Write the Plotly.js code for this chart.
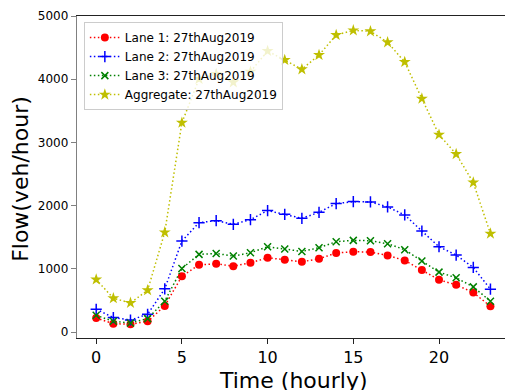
<!DOCTYPE html>
<html>
<head>
<meta charset="utf-8">
<script src="https://cdn.plot.ly/plotly-3.0.1.min.js"></script>
<style>
  html, body { margin: 0; padding: 0; background: #fff; }
  #chart { width: 505px; height: 390px; }
</style>
</head>
<body>
<div id="chart"></div>
<script>
// Hourly flow per lane on 27 Aug 2019 (veh/hour)
const hours = [0,1,2,3,4,5,6,7,8,9,10,11,12,13,14,15,16,17,18,19,20,21,22,23];
const lane1 = [222,132,122,169,413,884,1063,1079,1042,1095,1175,1143,1111,1159,1249,1270,1265,1212,1132,979,825,746,624,407];
const lane2 = [360,228,190,280,683,1439,1730,1762,1704,1778,1921,1862,1799,1894,2032,2063,2058,1979,1852,1598,1349,1217,1021,677];
const lane3 = [265,169,143,212,487,1005,1228,1243,1201,1254,1349,1312,1275,1333,1429,1450,1444,1397,1302,1122,947,857,714,487];
const aggregate = [831,534,460,661,1577,3312,4003,4082,3951,4119,4446,4304,4157,4383,4699,4773,4758,4584,4272,3692,3122,2816,2365,1556];
const seriesNames = ['Lane 1: 27thAug2019','Lane 2: 27thAug2019','Lane 3: 27thAug2019','Aggregate: 27thAug2019'];
const xTicks = [0,5,10,15,20];
const yTicks = [0,1000,2000,3000,4000,5000];
const xTitle = 'Time (hourly)';
const yTitle = 'Flow(veh/hour)';

const dotted = '1.5px,2.5px';
function series(y, name, color, marker) {
  return {
    x: hours, y: y, name: name, type: 'scatter', mode: 'lines+markers',
    line: {color: color, width: 1.5, dash: dotted},
    marker: Object.assign({color: color}, marker)
  };
}

const traces = [
  series(lane1, seriesNames[0], '#ff0000', {symbol: 'circle', size: 8, line: {width: 0}}),
  series(lane2, seriesNames[1], '#0000ff', {symbol: 'cross-thin', size: 8, line: {color: '#0000ff', width: 1.5}}),
  series(lane3, seriesNames[2], '#008000', {symbol: 'x-thin', size: 7, line: {color: '#008000', width: 1.5}}),
  series(aggregate, seriesNames[3], '#bfbf00', {symbol: 'star', size: 9, line: {width: 0}})
];

const titleFont = {family: 'DejaVu Sans', size: 22, color: '#000'};

const layout = {
  width: 505, height: 390,
  margin: {l: 77, r: 0, t: 16, b: 52, pad: 0},
  paper_bgcolor: '#fff', plot_bgcolor: '#fff',
  font: {family: 'DejaVu Sans', color: '#000'},
  showlegend: true,
  legend: {
    x: 0.016, y: 0.981, xanchor: 'left', yanchor: 'top',
    bgcolor: 'rgba(255,255,255,0.8)', bordercolor: '#cccccc', borderwidth: 1,
    font: {family: 'DejaVu Sans', size: 12, color: '#000'},
    tracegroupgap: 0
  },
  xaxis: {
    range: [-1.12, 23.85],
    tickvals: xTicks, ticktext: xTicks.map(String),
    ticks: 'outside', ticklen: 5, tickwidth: 1, tickcolor: '#222',
    showline: true, linecolor: '#222', linewidth: 1.2, mirror: true,
    showgrid: false, zeroline: false,
    tickfont: {family: 'DejaVu Sans', size: 16, color: '#000'}
  },
  yaxis: {
    range: [-95, 5000],
    tickvals: yTicks, ticktext: yTicks.map(String),
    ticks: 'outside', ticklen: 5, tickwidth: 1, tickcolor: '#808080',
    showline: true, linecolor: '#808080', linewidth: 1.2, mirror: false,
    showgrid: false, zeroline: false,
    tickfont: {family: 'DejaVu Sans', size: 12, color: '#000'}
  },
  // axis titles placed as paper annotations so the x title can sit low, clipped by the page edge
  annotations: [
    {text: xTitle, xref: 'paper', yref: 'paper', x: 0.505, y: -0.088,
     xanchor: 'center', yanchor: 'top', showarrow: false, font: titleFont},
    {text: yTitle, xref: 'paper', yref: 'paper', x: -0.131, y: 0.494,
     xanchor: 'center', yanchor: 'middle', textangle: -90, showarrow: false, font: titleFont}
  ]
};

Plotly.newPlot('chart', traces, layout, {displayModeBar: false, staticPlot: true});
</script>
</body>
</html>
